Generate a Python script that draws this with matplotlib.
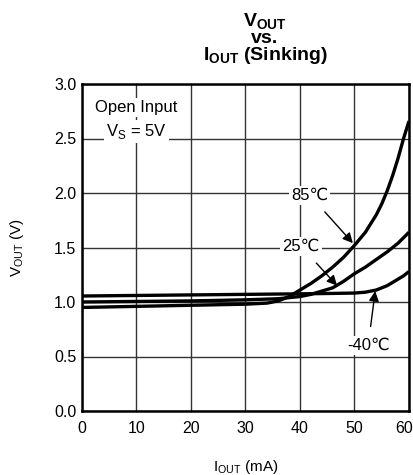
import matplotlib
matplotlib.use('Agg')
import matplotlib.pyplot as plt
import matplotlib.transforms as mtransforms

plt.rcParams['font.family'] = ['Liberation Sans', 'DejaVu Sans']
plt.rcParams['mathtext.fontset'] = 'custom'
plt.rcParams['mathtext.rm'] = 'Liberation Sans'
plt.rcParams['mathtext.bf'] = 'Liberation Sans:bold'

# I_OUT (mA) / V_OUT (V)
i_85 = [0, 10, 20, 30, 34, 36, 38, 40, 42, 44, 46, 48, 50, 52, 54, 55, 56, 57, 58, 59, 60]
v_85 = [0.95, 0.96, 0.97, 0.98, 0.99, 1.01, 1.05, 1.11, 1.17, 1.24, 1.32, 1.41, 1.52, 1.64, 1.8, 1.9, 2.02, 2.16, 2.32, 2.5, 2.66]

i_25 = [0, 10, 20, 30, 36, 40, 42, 44, 46, 48, 50, 52, 54, 56, 58, 60]
v_25 = [1.0, 1.005, 1.01, 1.02, 1.03, 1.05, 1.07, 1.1, 1.13, 1.19, 1.26, 1.32, 1.39, 1.46, 1.54, 1.64]

i_m40 = [0, 10, 20, 30, 40, 45, 50, 52, 53, 54, 55, 56, 57, 58, 59, 60]
v_m40 = [1.055, 1.06, 1.065, 1.07, 1.075, 1.078, 1.082, 1.09, 1.10, 1.11, 1.13, 1.15, 1.18, 1.21, 1.24, 1.28]

x_ticks = [0, 10, 20, 30, 40, 50, 60]
y_ticks = [0.0, 0.5, 1.0, 1.5, 2.0, 2.5, 3.0]

fig = plt.figure(figsize=(4.14, 4.75), dpi=100)
ax = fig.add_axes([82 / 414, 1 - 411 / 475, 327 / 414, 327 / 475])

for xs, ys in [(i_85, v_85), (i_25, v_25), (i_m40, v_m40)]:
    ax.plot(xs, ys, color='black', lw=2.4, solid_capstyle='butt', zorder=3)

ax.set_xlim(0, 60)
ax.set_ylim(0, 3)
ax.set_xticks(x_ticks)
ax.set_yticks(y_ticks)
ax.set_yticklabels(['%.1f' % v for v in y_ticks])
ax.tick_params(length=0, labelsize=11.5)
ax.tick_params(axis='x', pad=7)
ax.tick_params(axis='y', pad=4)
ax.grid(True, color='#333333', lw=1.0)
for s in ax.spines.values():
    s.set_linewidth(1.8)

# last x label sits a bit to the left so it stays inside the picture
last = ax.get_xticklabels()[-1]
last.set_transform(last.get_transform() + mtransforms.ScaledTranslation(-5 / 100, 0, fig.dpi_scale_trans))

box = dict(facecolor='white', edgecolor='none', pad=1.5)
ax.text(10, 2.78, 'Open Input', ha='center', va='center', fontsize=12, bbox=box, zorder=4)
ax.text(10, 2.56, r'V$_\mathregular{S}$ = 5V', ha='center', va='center', fontsize=12, bbox=box, zorder=4)

arrow = dict(arrowstyle='-|>', color='black', lw=1.0, mutation_scale=15, shrinkA=7, shrinkB=0)
ax.annotate('85℃', xy=(49.7, 1.54), xytext=(41.8, 1.98), ha='center', va='center',
            fontsize=12, bbox=box, arrowprops=arrow, zorder=4)
ax.annotate('25℃', xy=(46.8, 1.15), xytext=(40.2, 1.51), ha='center', va='center',
            fontsize=12, bbox=box, arrowprops=arrow, zorder=4)
ax.annotate('-40℃', xy=(53.8, 1.1), xytext=(52.5, 0.6), ha='center', va='center',
            fontsize=12, bbox=box, arrowprops=arrow, zorder=4)

ax.set_xlabel(r'I$_\mathregular{OUT}$ (mA)', fontsize=11, labelpad=16)
ax.set_ylabel(r'V$_\mathregular{OUT}$ (V)', fontsize=11, labelpad=20)

fig.text(265 / 414, 1 - 39 / 475,
         r'V$_\mathbf{OUT}$' + '\nvs.\n' + r'I$_\mathbf{OUT}$ (Sinking)',
         ha='center', va='center', fontsize=14, fontweight='bold', linespacing=0.85)

fig.savefig('out.png', dpi=100)
